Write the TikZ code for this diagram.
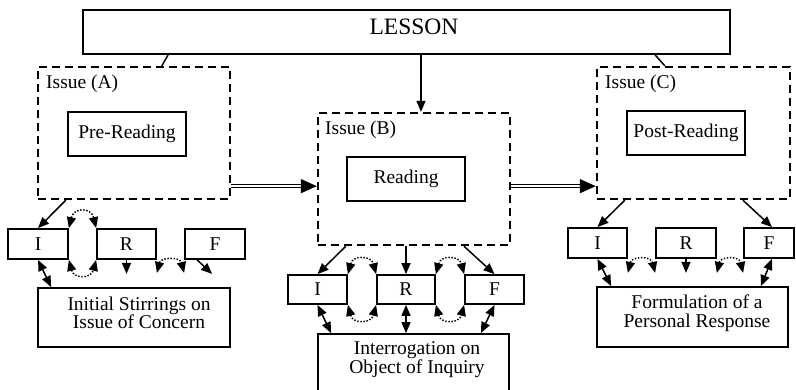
\documentclass[tikz,border=0pt]{standalone}
\usepackage{fontspec}
\setmainfont{Liberation Serif}
\usetikzlibrary{arrows.meta}
\begin{document}
\begin{tikzpicture}[x=1pt,y=-1pt,
  box/.style={draw, line width=1.8pt, inner sep=0pt, font=\fontsize{19.5}{19.5}\selectfont},
  issue/.style={draw, line width=2.3pt, dash pattern=on 8pt off 5pt, inner sep=0pt},
  tag/.style={anchor=base west, inner sep=0pt, font=\fontsize{19.5}{19.5}\selectfont},
  txt/.style={align=center, inner sep=0pt, font=\fontsize{19.5}{18.5}\selectfont},
  tip/.tip={Triangle[length=11pt,width=9pt]},
  arr/.style={line width=1.5pt, -tip},
  biarr/.style={line width=1.5pt, tip-tip},
  dotarr/.style={line width=1.5pt, dash pattern=on 1.4pt off 1.7pt, tip-tip},
  dbl/.style={double, double distance=1.8pt, line width=1.2pt, -{Triangle[length=16pt,width=14pt]}},
]
\useasboundingbox (0,0) rectangle (796,389);
\clip (0,0) rectangle (796,389);

% lesson header
\node[box, minimum width=647pt, minimum height=44pt] (lesson) at (406.5,32) {};
\node[inner sep=0pt, font=\fontsize{23.5}{23.5}\selectfont] (lessonText) at (414,27) {LESSON};

% the three issue frames
\node[issue, minimum width=192pt, minimum height=132pt] (issueA) at (134,133) {};
\node[issue, minimum width=192pt, minimum height=132pt] (issueB) at (414,179) {};
\node[issue, minimum width=193pt, minimum height=132pt] (issueC) at (693.5,133) {};
\node[tag] (tagA) at (46,88) {Issue (A)};
\node[tag] (tagB) at (325,134) {Issue (B)};
\node[tag] (tagC) at (605,88) {Issue (C)};

\node[box, minimum width=118pt, minimum height=44pt] (pre) at (127,134) {Pre-Reading};
\node[box, minimum width=118pt, minimum height=44pt] (read) at (406,179) {Reading};
\node[box, minimum width=118pt, minimum height=44pt] (post) at (686,133) {Post-Reading};

% links from the lesson
\draw[line width=1.5pt] ([xshift=86pt]lesson.south west) -- ([xshift=125pt]issueA.north west);
\draw[arr] ([xshift=14.5pt]lesson.south) -- ([xshift=7pt]issueB.north);
\draw[line width=1.5pt] ([xshift=573pt]lesson.south west) -- ([xshift=69pt]issueC.north west);

% flow between issues
\draw[dbl] ([yshift=14pt]issueA.south east) -- ([yshift=14pt]issueA.south east -| issueB.west);
\draw[dbl] ([yshift=60pt]issueB.south east) -- ([yshift=60pt]issueB.south east -| issueC.west);

% ---- left IRF group
\node[box, minimum width=60pt, minimum height=30pt] (Il) at (38,244) {I};
\node[box, minimum width=59pt, minimum height=30pt] (Rl) at (126.5,244) {R};
\node[box, minimum width=60pt, minimum height=30pt] (Fl) at (215,244) {F};
\node[box, minimum width=192pt, minimum height=59pt] (initial) at (134,317.5) {};
\node[txt] (initialText) at (139,313) {Initial Stirrings on\\Issue of Concern};

\draw[arr] ([xshift=29pt]issueA.south west) -- (Il.north);
\draw[dotarr] (Il.north east) .. controls +(5,-21) and +(-5,-21) .. (Rl.north west);
\draw[dotarr] (Il.south east) .. controls +(5,19) and +(-5,19) .. (Rl.south west);
\draw[arr] (Rl.south) -- ++(0,14);
\draw[dotarr] ([yshift=-13pt]Rl.south east) .. controls +(4,-16) and +(-4,-16) .. ([yshift=-13pt]Fl.south west);
\draw[arr] ([xshift=13pt]Fl.south west) -- ++(15,14);
\draw[biarr] (Il.south) -- ([xshift=14pt]initial.north west);

% ---- middle IRF group
\node[box, minimum width=59pt, minimum height=29pt] (Im) at (317.5,289.5) {I};
\node[box, minimum width=58pt, minimum height=29pt] (Rm) at (406,289.5) {R};
\node[box, minimum width=59pt, minimum height=29pt] (Fm) at (494.5,289.5) {F};
\node[box, minimum width=191pt, minimum height=61pt] (interrog) at (413.5,364.5) {};
\node[txt] (interrogText) at (417,359.5) {Interrogation on\\Object of Inquiry};

\draw[arr] ([xshift=29pt]issueB.south west) -- (Im.north);
\draw[arr] (Rm.north |- issueB.south) -- (Rm.north);
\draw[arr] ([xshift=147pt]issueB.south west) -- (Fm.north);
\draw[dotarr] (Im.north east) .. controls +(5,-19) and +(-5,-19) .. (Rm.north west);
\draw[dotarr] (Im.south east) .. controls +(5,19) and +(-5,19) .. (Rm.south west);
\draw[dotarr] (Rm.north east) .. controls +(5,-19) and +(-5,-19) .. (Fm.north west);
\draw[dotarr] (Rm.south east) .. controls +(5,19) and +(-5,19) .. (Fm.south west);
\draw[biarr] (Im.south) -- ([xshift=14pt]interrog.north west);
\draw[biarr] (Rm.south) -- (Rm.south |- interrog.north);
\draw[biarr] (Fm.south) -- ([xshift=-29pt]interrog.north east);

% ---- right IRF group
\node[box, minimum width=59pt, minimum height=30pt] (Ir) at (597.5,243) {I};
\node[box, minimum width=60pt, minimum height=30pt] (Rr) at (686,243) {R};
\node[box, minimum width=50pt, minimum height=30pt] (Fr) at (769,243) {F};
\node[box, minimum width=191pt, minimum height=60pt] (formul) at (692.5,317) {};
\node[txt] (formulText) at (697,313) {Formulation of a\\Personal Response};

\draw[arr] ([xshift=29pt]issueC.south west) -- (Ir.north);
\draw[arr] ([xshift=147pt]issueC.south west) -- ([xshift=3pt]Fr.north);
\draw[arr] (Rr.south) -- ++(0,14);
\draw[dotarr] ([yshift=-14pt]Ir.south east) .. controls +(4,-17) and +(-4,-17) .. ([yshift=-14pt]Rr.south west);
\draw[dotarr] ([yshift=-14pt]Rr.south east) .. controls +(4,-17) and +(-4,-17) .. ([yshift=-14pt]Fr.south west);
\draw[biarr] (Ir.south) -- ([xshift=15pt]formul.north west);
\draw[biarr] ([xshift=3pt]Fr.south) -- ([xshift=-28pt]formul.north east);
\end{tikzpicture}
\end{document}
